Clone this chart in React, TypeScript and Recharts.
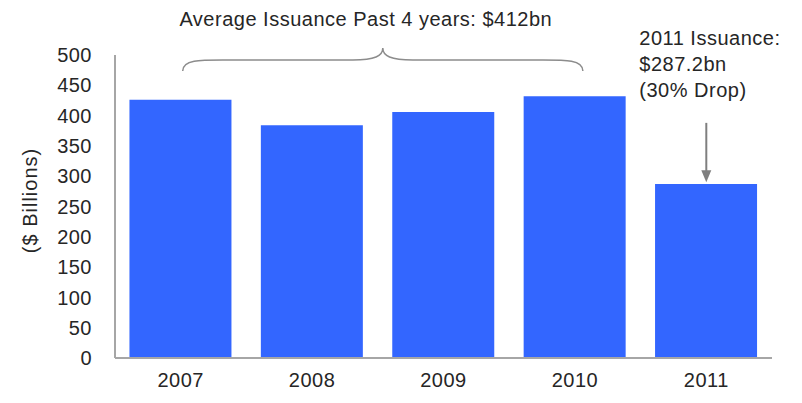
import { BarChart, Bar, XAxis, YAxis, ReferenceLine } from 'recharts'

const years = ['2007', '2008', '2009', '2010', '2011']
const issuance = [426, 384, 406, 432, 287.2]
const yTicks = [0, 50, 100, 150, 200, 250, 300, 350, 400, 450, 500]

const data = years.map((year, i) => ({ year, value: issuance[i] }))

const font = '"Liberation Sans", Arial, sans-serif'
const textColor = '#262626'

// curly brace spanning the first four years, with caption above it
const Brace = (props: any) => {
  const { y1 } = props
  const x1 = props.x1 + 2
  const x2 = props.x2 + 8
  const mid = (x1 + x2) / 2
  const top = y1 - 13
  const bottom = y1 + 10
  const d = `M ${x1} ${bottom} C ${x1} ${y1 - 3}, ${x1 + 20} ${y1 - 1}, ${x1 + 60} ${y1 - 1}
    L ${mid - 30} ${y1 - 1} C ${mid - 8} ${y1 - 1}, ${mid} ${y1 - 5}, ${mid} ${top}
    C ${mid} ${y1 - 5}, ${mid + 8} ${y1 - 1}, ${mid + 30} ${y1 - 1}
    L ${x2 - 60} ${y1 - 1} C ${x2 - 20} ${y1 - 1}, ${x2} ${y1 - 3}, ${x2} ${bottom}`
  return (
    <g>
      <path d={d} fill="none" stroke="#8c8c8c" strokeWidth={1.5} />
      <text
        x={mid - 17}
        y={top - 22}
        textAnchor="middle"
        fontFamily={font}
        fontSize={20}
        letterSpacing={0.5}
        fill={textColor}
      >
        Average Issuance Past 4 years: $412bn
      </text>
    </g>
  )
}

// arrow pointing at 2011 bar, with note above
const DropArrow = (props: any) => {
  const { x1, y1, y2 } = props
  const x = x1
  const tx = x - 67
  return (
    <g>
      <line x1={x} y1={y1} x2={x} y2={y2 - 10} stroke="#7f7f7f" strokeWidth={2} />
      <path d={`M ${x - 5} ${y2 - 12} L ${x + 5} ${y2 - 12} L ${x} ${y2} Z`} fill="#7f7f7f" />
      <text fontFamily={font} fontSize={20} letterSpacing={0.5} fill={textColor}>
        <tspan x={tx} y={y1 - 78}>2011 Issuance:</tspan>
        <tspan x={tx} y={y1 - 52}>$287.2bn</tspan>
        <tspan x={tx} y={y1 - 26}>(30% Drop)</tspan>
      </text>
    </g>
  )
}

const YLabel = (props: any) => {
  const { viewBox } = props
  const cx = 37
  const cy = viewBox.y + viewBox.height / 2 - 6
  return (
    <text
      x={cx}
      y={cy}
      transform={`rotate(-90, ${cx}, ${cy})`}
      textAnchor="middle"
      fontFamily={font}
      fontSize={20}
      letterSpacing={1}
      fill={textColor}
    >
      ($ Billions)
    </text>
  )
}

export default function App() {
  return (
    <div style={{ position: 'absolute', left: 0, top: 0, width: 802, height: 403, background: '#fff' }}>
      <BarChart
        width={802}
        height={403}
        data={data}
        margin={{ top: 55, right: 30, left: 0, bottom: 15 }}
        barCategoryGap="11%"
      >
        <XAxis
          dataKey="year"
          height={30}
          tickLine={false}
          tickMargin={9}
          axisLine={{ stroke: '#a6a6a6', strokeWidth: 2 }}
          tick={{ fill: textColor, fontSize: 20, fontFamily: font, letterSpacing: 0.5 }}
        />
        <YAxis
          width={115}
          domain={[0, 500]}
          ticks={yTicks}
          interval={0}
          tickLine={false}
          tickMargin={17}
          axisLine={{ stroke: '#a6a6a6', strokeWidth: 2 }}
          tick={{ fill: textColor, fontSize: 20, fontFamily: font, letterSpacing: 0.5 }}
          label={<YLabel />}
        />
        <Bar dataKey="value" fill="#3366ff" isAnimationActive={false} />
        <ReferenceLine
          segment={[{ x: '2007', y: 490 }, { x: '2010', y: 490 }]}
          ifOverflow="visible"
          shape={<Brace />}
        />
        <ReferenceLine
          segment={[{ x: '2011', y: 388 }, { x: '2011', y: 290 }]}
          ifOverflow="visible"
          shape={<DropArrow />}
        />
      </BarChart>
    </div>
  )
}
